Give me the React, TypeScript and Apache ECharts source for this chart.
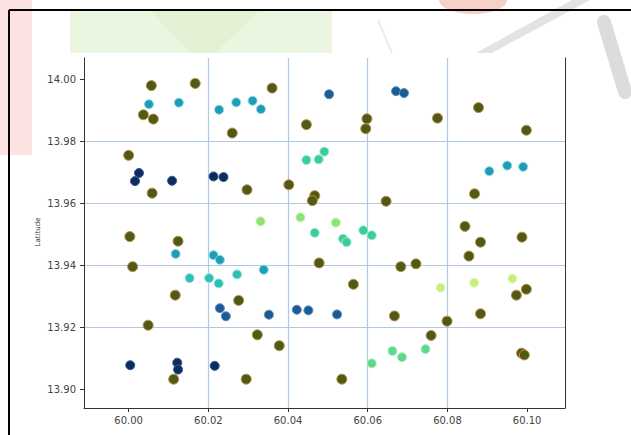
import React, { useEffect, useRef } from "react";
import * as echarts from "echarts";

const xTicks = [60.0, 60.02, 60.04, 60.06, 60.08, 60.1];
const yTicks = [13.9, 13.92, 13.94, 13.96, 13.98, 14.0];

const olivePoints = [
  [60.0057, 13.9981], [60.0167, 13.9988], [60.036, 13.9973], [60.0037, 13.9887],
  [60.0062, 13.9873], [60.026, 13.9828], [60.0446, 13.9855], [60.0598, 13.9874],
  [60.0595, 13.9842], [60.0775, 13.9876], [60.0878, 13.991], [60.0998, 13.9837],
  [60.0, 13.9756], [60.0059, 13.9634], [60.0297, 13.9645], [60.0402, 13.9661],
  [60.0467, 13.9626], [60.0461, 13.961], [60.0646, 13.9608], [60.0868, 13.9632],
  [60.0844, 13.9527], [60.0987, 13.9492], [60.0003, 13.9494], [60.0124, 13.9479],
  [60.001, 13.9397], [60.0117, 13.9305], [60.0276, 13.9288], [60.0049, 13.9208],
  [60.0113, 13.9034], [60.0295, 13.9034], [60.0478, 13.9409], [60.0683, 13.9397],
  [60.0564, 13.934], [60.0667, 13.9238], [60.0323, 13.9177], [60.0378, 13.9142],
  [60.0535, 13.9034], [60.0883, 13.9476], [60.0854, 13.9431], [60.0721, 13.9406],
  [60.0998, 13.9324], [60.0973, 13.9305], [60.0883, 13.9245], [60.0799, 13.9221],
  [60.0759, 13.9175], [60.0986, 13.9118], [60.0993, 13.9112],
];
const navyPoints = [
  [60.0026, 13.9699], [60.0016, 13.9673], [60.0109, 13.9674], [60.0213, 13.9688],
  [60.0238, 13.9686], [60.0004, 13.9079], [60.0122, 13.9087], [60.0124, 13.9065],
  [60.0216, 13.9077],
];
const bluePoints = [
  [60.0503, 13.9953], [60.0671, 13.9963], [60.0691, 13.9957], [60.0229, 13.9263],
  [60.0244, 13.9237], [60.0352, 13.9242], [60.0422, 13.9258], [60.0451, 13.9256],
  [60.0523, 13.9243],
];
const tealDarkPoints = [
  [60.0051, 13.9921], [60.0126, 13.9926], [60.0227, 13.9903], [60.027, 13.9927],
  [60.0311, 13.9932], [60.0332, 13.9905], [60.0905, 13.9705], [60.095, 13.9723],
  [60.099, 13.9719], [60.0118, 13.9438], [60.0213, 13.9434], [60.0229, 13.9419],
  [60.0339, 13.9387],
];
const tealLightPoints = [
  [60.0153, 13.936], [60.0202, 13.936], [60.0226, 13.9343], [60.0272, 13.9372],
];
const greenTealPoints = [
  [60.0491, 13.9768], [60.0477, 13.9743], [60.0446, 13.9741], [60.0467, 13.9506],
  [60.0538, 13.9487], [60.0547, 13.9476], [60.0589, 13.9514], [60.061, 13.9498],
];
const limePoints = [[60.0331, 13.9543], [60.0431, 13.9556], [60.052, 13.9539]];
const midGreenPoints = [
  [60.061, 13.9085], [60.0662, 13.9125], [60.0686, 13.9105], [60.0745, 13.9131],
];
const yellowGreenPoints = [[60.0783, 13.9329], [60.0867, 13.9345], [60.0963, 13.9358]];

const groups = [
  { name: "olive", data: olivePoints, color: "#4c5c15", border: "#c98a4e", size: 10 },
  { name: "navy", data: navyPoints, color: "#0b2d62", border: "#3a5a8a", size: 9 },
  { name: "blue", data: bluePoints, color: "#1a5c93", border: "#5f8fbf", size: 9 },
  { name: "tealDark", data: tealDarkPoints, color: "#1f9cb6", border: "#8fdcea", size: 9 },
  { name: "tealLight", data: tealLightPoints, color: "#2fc0b4", border: "#9ae8e0", size: 9 },
  { name: "greenTeal", data: greenTealPoints, color: "#3ccc9c", border: "#a0eccc", size: 9 },
  { name: "lime", data: limePoints, color: "#8ee27a", border: "#c8f4b8", size: 9 },
  { name: "midGreen", data: midGreenPoints, color: "#5ed88a", border: "#b0f0c4", size: 9 },
  { name: "yellowGreen", data: yellowGreenPoints, color: "#c5ee7c", border: "#e8fac8", size: 9 },
];

const xMin = 59.9888;
const xMax = 60.1095;
const yMin = 13.8941;
const yMax = 14.007;

const font = "DejaVu Sans";
const gridColor = "#afcae6";

export default function App() {
  const ref = useRef<HTMLDivElement>(null);
  useEffect(() => {
    if (!ref.current) return;
    const chart = echarts.init(ref.current, null, { renderer: "svg" });
    const axisLineStyle = { color: "#333", width: 1 };
    chart.setOption({
      animation: false,
      backgroundColor: "#ffffff",
      grid: { left: 84, right: 66, top: 58, bottom: 27, containLabel: false },
      xAxis: {
        type: "value",
        min: xMin,
        max: xMax,
        axisLine: { show: true, onZero: false, lineStyle: axisLineStyle },
        axisTick: { show: true, length: 4, lineStyle: axisLineStyle, customValues: xTicks },
        axisLabel: {
          show: true,
          margin: 7,
          color: "#444",
          fontSize: 10,
          fontFamily: font,
          customValues: xTicks,
          formatter: (v: number) => v.toFixed(2),
        },
        splitLine: {
          show: true,
          showMinLine: false,
          showMaxLine: false,
          lineStyle: { color: gridColor, width: 1.2 },
        },
      },
      yAxis: [
        {
          type: "value",
          min: yMin,
          max: yMax,
          axisLine: { show: true, onZero: false, lineStyle: axisLineStyle },
          axisTick: { show: true, length: 4, lineStyle: axisLineStyle, customValues: yTicks },
          axisLabel: {
            show: true,
            margin: 8,
            color: "#444",
            fontSize: 10,
            fontFamily: font,
            customValues: yTicks,
            formatter: (v: number) => v.toFixed(2),
          },
          splitLine: {
            show: true,
            showMinLine: false,
            showMaxLine: false,
            lineStyle: { color: gridColor, width: 1.2 },
          },
        },
        {
          type: "value",
          position: "right",
          min: yMin,
          max: yMax,
          axisLine: { show: true, onZero: false, lineStyle: axisLineStyle },
          axisTick: { show: false },
          axisLabel: { show: false },
          splitLine: { show: false },
        },
      ],
      graphic: [
        { type: "rect", z: 0, shape: { x: 0, y: 0, width: 32, height: 155 }, style: { fill: "#fde2e2" } },
        { type: "rect", z: 0, shape: { x: 70, y: 10, width: 262, height: 43 }, style: { fill: "#ebf6e1" } },
        {
          type: "polygon", z: 0,
          shape: { points: [[150, 10], [260, 10], [215, 53], [190, 53]] },
          style: { fill: "#e3f2d5" },
        },
        { type: "ellipse", z: 0, shape: { cx: 473, cy: 0, rx: 34, ry: 14 }, style: { fill: "#f7d0c8" } },
        {
          type: "polygon", z: 0,
          shape: { points: [[476, 53], [492, 53], [590, 0], [572, 0]] },
          style: { fill: "#e3e3e3" },
        },
        {
          type: "line", z: 0,
          shape: { x1: 604, y1: 22, x2: 625, y2: 92 },
          style: { stroke: "#dcdcdc", lineWidth: 14, lineCap: "round" },
        },
        {
          type: "line", z: 0,
          shape: { x1: 378, y1: 20, x2: 392, y2: 53 },
          style: { stroke: "#ececec", lineWidth: 2 },
        },
        { type: "line", z: 5, shape: { x1: 9, y1: 10, x2: 631, y2: 10 }, style: { stroke: "#000", lineWidth: 2 } },
        { type: "line", z: 5, shape: { x1: 9, y1: 10, x2: 9, y2: 435 }, style: { stroke: "#000", lineWidth: 2 } },
        {
          type: "text", z: 5,
          x: 38, y: 232, rotation: Math.PI / 2,
          style: {
            text: "Latitude", fontSize: 7, fontFamily: font, fill: "#333",
            align: "center", verticalAlign: "middle",
          },
        },
      ],
      series: groups.map((g) => ({
        name: g.name,
        type: "scatter",
        xAxisIndex: 0,
        yAxisIndex: 0,
        symbol: "circle",
        symbolSize: g.size,
        data: g.data,
        itemStyle: { color: g.color, borderColor: g.border, borderWidth: 1, opacity: 1 },
        emphasis: { disabled: true },
      })),
    });
    return () => chart.dispose();
  }, []);
  return (
    <div
      ref={ref}
      style={{ position: "fixed", left: 0, top: 0, width: 631, height: 435, background: "#fff" }}
    />
  );
}
